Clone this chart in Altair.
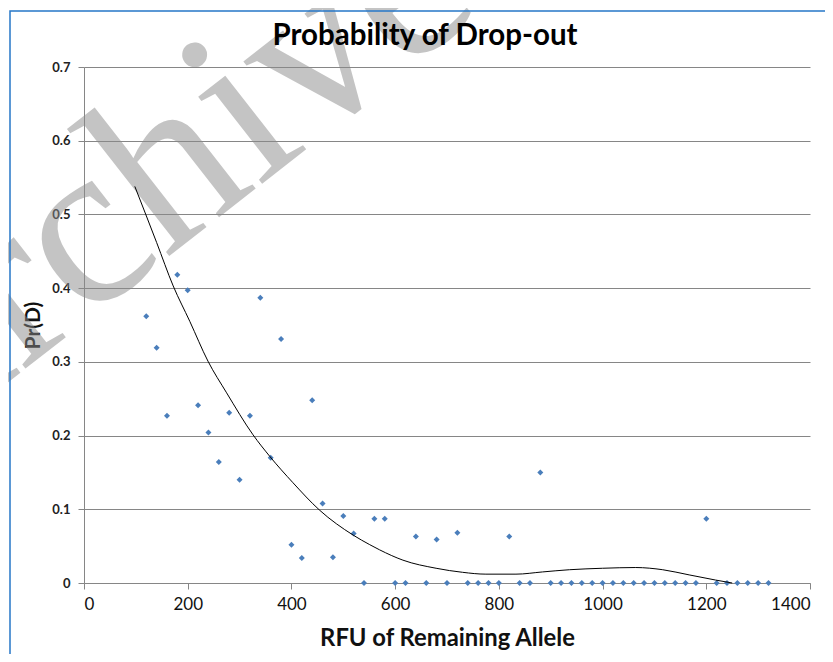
import altair as alt
import pandas as pd

# ---- data ----
RFU = [120, 140, 160, 180, 200, 220, 240, 260, 280, 300,
       320, 340, 360, 380, 400, 420, 440, 460, 480, 500,
       520, 540, 560, 580, 600, 620, 640, 660, 680, 700,
       720, 740, 760, 780, 800, 820, 840, 860, 880, 900,
       920, 940, 960, 980, 1000, 1020, 1040, 1060, 1080, 1100,
       1120, 1140, 1160, 1180, 1200, 1220, 1240, 1260, 1280, 1300,
       1320]
PRD = [0.362, 0.319, 0.227, 0.418, 0.397, 0.241, 0.204, 0.164, 0.231, 0.140,
       0.227, 0.387, 0.170, 0.331, 0.052, 0.034, 0.248, 0.108, 0.035, 0.091,
       0.067, 0.0, 0.087, 0.087, 0.0, 0.0, 0.063, 0.0, 0.059, 0.0,
       0.068, 0.0, 0.0, 0.0, 0.0, 0.063, 0.0, 0.0, 0.150, 0.0,
       0.0, 0.0, 0.0, 0.0, 0.0, 0.0, 0.0, 0.0, 0.0, 0.0,
       0.0, 0.0, 0.0, 0.0, 0.087, 0.0, 0.0, 0.0, 0.0, 0.0,
       0.0]
# trend line (polynomial trendline of the original)
TREND_X = [98, 118, 140, 172, 204, 239, 275, 326, 358, 403, 454, 519, 551,
           570, 615, 679, 730, 775, 833, 884, 936, 1000, 1064, 1116, 1167,
           1218, 1250]
TREND_Y = [0.538, 0.502, 0.462, 0.403, 0.355, 0.301, 0.258, 0.201, 0.172,
           0.136, 0.099, 0.065, 0.052, 0.045, 0.031, 0.020, 0.0145, 0.012,
           0.012, 0.015, 0.018, 0.020, 0.021, 0.018, 0.011, 0.004, 0.0]
X_TICKS = [0, 200, 400, 600, 800, 1000, 1200, 1400]
Y_TICKS = [0, 0.1, 0.2, 0.3, 0.4, 0.5, 0.6, 0.7]
TITLE = ["Probability of Drop-out"]
X_TITLE = "RFU of Remaining Allele"
Y_TITLE = "Pr(D)"
WATERMARK = ["Archived"]

FONT = "Lato"
GRID = "#868686"

df = pd.DataFrame({"rfu": RFU, "prd": PRD})
trend_df = pd.DataFrame({"rfu": TREND_X, "prd": TREND_Y})

W, H = 726, 516

x_enc = alt.X("rfu:Q",
              scale=alt.Scale(domain=[0, 1400], nice=False, zero=False),
              axis=alt.Axis(values=X_TICKS, grid=False, title=X_TITLE, format="d",
                            domainColor=GRID, tickColor=GRID, tickSize=6,
                            labelFont=FONT, labelFontSize=17, labelColor="#111111",
                            labelPadding=7,
                            titleFont=FONT, titleFontSize=23.8, titleFontWeight="bold",
                            titleColor="#111111", titleX=W / 2, titleY=62,
                            titleBaseline="alphabetic"))
y_enc = alt.Y("prd:Q",
              scale=alt.Scale(domain=[0, 0.7], nice=False),
              axis=alt.Axis(values=Y_TICKS, grid=True, gridColor=GRID, gridWidth=1,
                            title=Y_TITLE,
                            labelExpr="datum.value == 0 ? '0' : format(datum.value, '.1f')",
                            domainColor=GRID, tickColor=GRID, tickSize=6,
                            labelFont=FONT, labelFontSize=13, labelFontWeight="bold",
                            labelColor="#222222", labelPadding=8,
                            titleFont=FONT, titleFontSize=21, titleFontWeight="bold",
                            titleColor="#111111", titleX=-51, titleY=H / 2,
                            titleBaseline="middle", titleAngle=270))

watermark = alt.Chart(pd.DataFrame({"t": WATERMARK})).mark_text(
    font="Liberation Serif", fontSize=235, angle=322, align="left",
    baseline="alphabetic", color="#8a8a8a", opacity=0.5
).encode(text="t:N", x=alt.value(-196), y=alt.value(409))

points = alt.Chart(df).mark_point(
    shape="diamond", filled=True, size=36, color="#4A7EBB", opacity=1
).encode(x=x_enc, y=y_enc)

trend = alt.Chart(trend_df).mark_line(
    color="black", strokeWidth=1, interpolate="monotone"
).encode(x="rfu:Q", y="prd:Q")

title = alt.Chart(pd.DataFrame({"t": TITLE})).mark_text(
    font=FONT, fontSize=29.5, fontWeight="bold", align="center",
    baseline="alphabetic", color="#000000"
).encode(text="t:N", x=alt.value(341), y=alt.value(-22))

border = alt.Chart(pd.DataFrame({"a": [0]})).mark_rect(
    fillOpacity=0, stroke="#2677C8", strokeWidth=1.5
).encode(x=alt.value(-74), x2=alt.value(800), y=alt.value(-56), y2=alt.value(650))

chart = alt.layer(watermark, points, trend, title, border).properties(
    width=W, height=H,
    padding={"left": 76, "top": 59, "right": 15, "bottom": 71},
    autosize=alt.AutoSizeParams(type="none"),
    background="white",
).configure_view(stroke=None)

chart.save("out.html", embed_options={"renderer": "svg", "actions": False})
